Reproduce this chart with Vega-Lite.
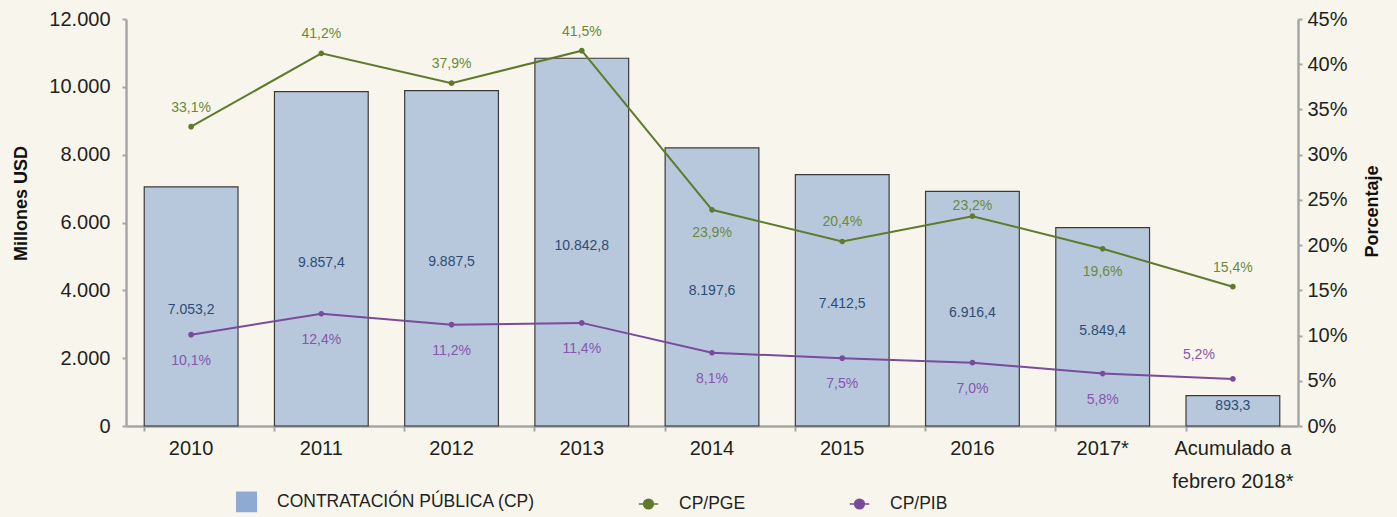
{
  "$schema": "https://vega.github.io/schema/vega-lite/v6.json",
  "autosize": "none",
  "width": 1172,
  "height": 407,
  "padding": {"left": 126, "top": 19, "right": 99, "bottom": 91},
  "background": "#f8f6ec",
  "data": {
    "values": [
      {"cat": "2010", "cp": 7053.2, "pge": 0.331, "pib": 0.101},
      {"cat": "2011", "cp": 9857.4, "pge": 0.412, "pib": 0.124},
      {"cat": "2012", "cp": 9887.5, "pge": 0.379, "pib": 0.112},
      {"cat": "2013", "cp": 10842.8, "pge": 0.415, "pib": 0.114},
      {"cat": "2014", "cp": 8197.6, "pge": 0.239, "pib": 0.081},
      {"cat": "2015", "cp": 7412.5, "pge": 0.204, "pib": 0.075},
      {"cat": "2016", "cp": 6916.4, "pge": 0.232, "pib": 0.070},
      {"cat": "2017*", "cp": 5849.4, "pge": 0.196, "pib": 0.058},
      {"cat": "Acumulado a febrero 2018*", "cp": 893.3, "pge": 0.154, "pib": 0.052}
    ]
  },
  "encoding": {
    "x": {
      "field": "cat",
      "type": "nominal",
      "sort": null,
      "scale": {"paddingInner": 0.28, "paddingOuter": 0.14},
      "axis": {
        "title": null,
        "labelAngle": 0,
        "labelFont": "Liberation Sans",
        "labelFontSize": 20,
        "labelColor": "#231f20",
        "labelPadding": 7,
        "labelLineHeight": 33,
        "labelBaseline": "top",
        "labelExpr": "datum.value == 'Acumulado a febrero 2018*' ? ['Acumulado a', 'febrero 2018*'] : datum.value",
        "bandPosition": 0,
        "tickSize": 5,
        "tickColor": "#a6a6a6",
        "tickWidth": 2,
        "domainColor": "#a6a6a6",
        "domainWidth": 2.5
      }
    }
  },
  "layer": [
    {
      "transform": [{"fold": ["cp"], "as": ["serie", "v"]}],
      "mark": {"type": "bar", "stroke": "#3a3a3a", "strokeWidth": 1.2, "fillOpacity": 0.6},
      "encoding": {
        "y": {
          "field": "v",
          "type": "quantitative",
          "scale": {"domain": [0, 12000]},
          "axis": {
            "title": "Millones USD",
            "titleFont": "Liberation Sans",
            "titleFontSize": 18,
            "titleFontWeight": "bold",
            "titleColor": "#111",
            "titleAngle": 270,
            "titleX": -105,
            "titleY": 184,
            "titleAlign": "center",
            "titleBaseline": "middle",
            "values": [0, 2000, 4000, 6000, 8000, 10000, 12000],
            "format": ",d",
            "labelFont": "Liberation Sans",
            "labelFontSize": 20,
            "labelColor": "#231f20",
            "labelPadding": 12,
            "tickSize": 4,
            "tickColor": "#a6a6a6",
            "tickWidth": 2,
            "domainColor": "#a6a6a6",
            "domainWidth": 2.5,
            "grid": false
          }
        },
        "color": {
          "field": "serie",
          "type": "nominal",
          "scale": {"domain": ["cp", "pge", "pib"], "range": ["#8eaad2", "#5f7a2c", "#7a4a9c"]},
          "legend": {
            "title": null,
            "orient": "none",
            "direction": "horizontal",
            "columns": 3,
            "legendX": 110,
            "legendY": 472,
            "columnPadding": 100,
            "symbolSize": 380,
            "labelOffset": 20,
            "labelLimit": 500,
            "labelFont": "Liberation Sans",
            "labelFontSize": 17.5,
            "labelColor": "#231f20",
            "labelExpr": "datum.value == 'cp' ? 'CONTRATACIÓN PÚBLICA (CP)' : datum.value == 'pge' ? 'CP/PGE' : 'CP/PIB'",
            "encode": {
              "symbols": {
                "update": {
                  "fill": {"scale": "color", "field": "value"},
                  "stroke": {"scale": "color", "field": "value"},
                  "strokeWidth": {"value": 2},
                  "opacity": {"value": 1},
                  "fillOpacity": {"value": 1}
                }
              }
            }
          }
        }
      }
    },
    {
      "transform": [{"filter": "datum.cp > 2000"}],
      "mark": {"type": "text", "font": "Liberation Sans", "fontSize": 14, "color": "#2b4d75", "baseline": "middle", "dy": 4},
      "encoding": {
        "y": {"field": "cp", "type": "quantitative", "scale": {"domain": [0, 24000]}, "axis": null},
        "text": {"field": "cp", "type": "quantitative", "format": ",.1f"}
      }
    },
    {
      "transform": [{"filter": "datum.cp <= 2000"}],
      "mark": {"type": "text", "font": "Liberation Sans", "fontSize": 14, "color": "#2b4d75", "baseline": "middle", "dy": -5},
      "encoding": {
        "y": {"field": "cp", "type": "quantitative", "scale": {"domain": [0, 24000]}, "axis": null},
        "text": {"field": "cp", "type": "quantitative", "format": ",.1f"}
      }
    },
    {
      "layer": [
        {
          "transform": [{"fold": ["pge", "pib"], "as": ["serie", "v"]}],
          "mark": {"type": "line", "strokeWidth": 2},
          "encoding": {
            "y": {
              "field": "v",
              "type": "quantitative",
              "scale": {"domain": [0, 0.45]},
              "axis": {
                "orient": "right",
                "title": "Porcentaje",
                "titleFont": "Liberation Sans",
                "titleFontSize": 18,
                "titleFontWeight": "bold",
                "titleColor": "#111",
                "titleAngle": 270,
                "titleX": 74,
                "titleY": 192,
                "titleAlign": "center",
                "titleBaseline": "middle",
                "values": [0, 0.05, 0.1, 0.15, 0.2, 0.25, 0.3, 0.35, 0.4, 0.45],
                "format": ".0%",
                "labelFont": "Liberation Sans",
                "labelFontSize": 20,
                "labelColor": "#231f20",
                "labelPadding": 5,
                "tickSize": 4,
                "tickColor": "#a6a6a6",
                "tickWidth": 2,
                "domainColor": "#a6a6a6",
                "domainWidth": 2.5,
                "grid": false
              }
            },
            "color": {"field": "serie", "type": "nominal"}
          }
        },
        {
          "transform": [{"fold": ["pge", "pib"], "as": ["serie", "v"]}],
          "mark": {"type": "point", "filled": true, "opacity": 1, "size": 130},
          "encoding": {
            "y": {"field": "v", "type": "quantitative"},
            "color": {"field": "serie", "type": "nominal"},
            "shape": {
              "field": "serie",
              "type": "nominal",
              "scale": {
                "domain": ["cp", "pge", "pib"],
                "range": ["square", "M-1,0L1,0M-0.5,0A0.5,0.5,0,1,0,0.5,0A0.5,0.5,0,1,0,-0.5,0Z", "M-1,0L1,0M-0.5,0A0.5,0.5,0,1,0,0.5,0A0.5,0.5,0,1,0,-0.5,0Z"]
              }
            }
          }
        },
        {
          "transform": [{"filter": "datum.cat != '2014' && datum.cat != '2016' && datum.cat != '2017*'"}],
          "mark": {"type": "text", "font": "Liberation Sans", "fontSize": 14, "color": "#6a8a3a", "baseline": "middle", "dy": -19},
          "encoding": {
            "y": {"field": "pge", "type": "quantitative"},
            "text": {"field": "pge", "type": "quantitative", "format": ".1%"}
          }
        },
        {
          "transform": [{"filter": "datum.cat == '2016'"}],
          "mark": {"type": "text", "font": "Liberation Sans", "fontSize": 14, "color": "#6a8a3a", "baseline": "middle", "dy": -10},
          "encoding": {
            "y": {"field": "pge", "type": "quantitative"},
            "text": {"field": "pge", "type": "quantitative", "format": ".1%"}
          }
        },
        {
          "transform": [{"filter": "datum.cat == '2014' || datum.cat == '2017*'"}],
          "mark": {"type": "text", "font": "Liberation Sans", "fontSize": 14, "color": "#6a8a3a", "baseline": "middle", "dy": 23},
          "encoding": {
            "y": {"field": "pge", "type": "quantitative"},
            "text": {"field": "pge", "type": "quantitative", "format": ".1%"}
          }
        },
        {
          "transform": [{"filter": "datum.cat != 'Acumulado a febrero 2018*'"}],
          "mark": {"type": "text", "font": "Liberation Sans", "fontSize": 14, "color": "#8655ad", "baseline": "middle", "dy": 26},
          "encoding": {
            "y": {"field": "pib", "type": "quantitative"},
            "text": {"field": "pib", "type": "quantitative", "format": ".1%"}
          }
        },
        {
          "transform": [{"filter": "datum.cat == 'Acumulado a febrero 2018*'"}],
          "mark": {"type": "text", "font": "Liberation Sans", "fontSize": 14, "color": "#8655ad", "baseline": "middle", "dy": -24, "dx": -34},
          "encoding": {
            "y": {"field": "pib", "type": "quantitative"},
            "text": {"field": "pib", "type": "quantitative", "format": ".1%"}
          }
        }
      ]
    }
  ],
  "resolve": {"scale": {"y": "independent"}, "axis": {"y": "independent"}},
  "config": {
    "locale": {"number": {"decimal": ",", "thousands": ".", "grouping": [3], "currency": ["$", ""]}},
    "font": "Liberation Sans",
    "view": {"stroke": null},
    "axis": {"grid": false}
  }
}
